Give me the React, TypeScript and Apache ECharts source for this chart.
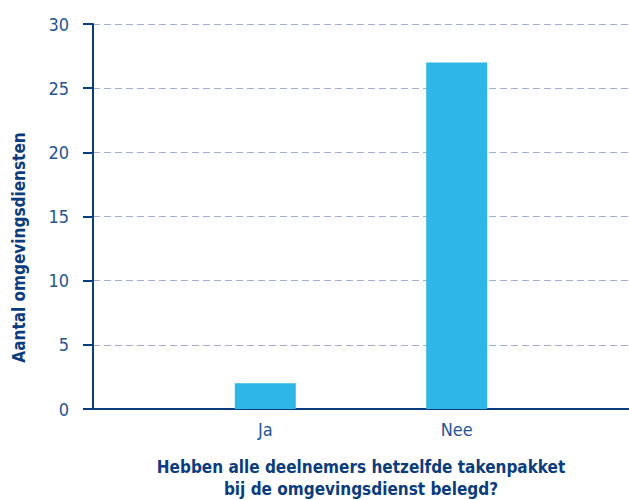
import React, { useEffect, useRef } from "react";
import * as echarts from "echarts";

const categories = ["Ja", "Nee"];
const values = [2, 27];
const yTicks = { min: 0, max: 30, interval: 5 };
const yTitle = "Aantal omgevingsdiensten";
const xTitle = "Hebben alle deelnemers hetzelfde takenpakket\nbij de omgevingsdienst belegd?";

const FONT = '"Liberation Sans Narrow", "DejaVu Sans Condensed", "Roboto Condensed", "Liberation Sans", sans-serif';
const DARK = "#0b3d7e";
const LABEL = "#265593";

export default function App() {
  const ref = useRef<HTMLDivElement>(null);
  useEffect(() => {
    if (!ref.current) return;
    const chart = echarts.init(ref.current, null, { renderer: "svg" });
    const xPositions = categories.map((_, i) => i + 1);
    chart.setOption({
      animation: false,
      backgroundColor: "#ffffff",
      textStyle: { fontFamily: FONT },
      grid: { left: 93, top: 24, right: 0, bottom: 91, containLabel: false },
      xAxis: {
        type: "value",
        min: 0.1,
        max: categories.length + 0.9,
        axisLine: { show: true, onZero: false, lineStyle: { color: DARK, width: 2 } },
        axisTick: { show: false },
        splitLine: { show: false },
        axisLabel: {
          customValues: xPositions,
          formatter: (v: number) => categories[Math.round(v) - 1] ?? "",
          color: LABEL,
          fontFamily: FONT,
          fontSize: 18,
          margin: 11,
        },
      },
      yAxis: {
        type: "value",
        min: yTicks.min,
        max: yTicks.max,
        interval: yTicks.interval,
        axisLine: { show: true, onZero: false, lineStyle: { color: DARK, width: 2 } },
        axisTick: { show: true, length: 10, lineStyle: { color: DARK, width: 2 } },
        axisLabel: { color: LABEL, fontFamily: FONT, fontSize: 18, margin: 24 },
        splitLine: {
          show: true,
          lineStyle: { color: "#9eaed9", width: 1, type: [7, 4] },
        },
      },
      series: [
        {
          type: "bar",
          barWidth: 61,
          itemStyle: { color: "#2db6e6" },
          data: values.map((v, i) => [xPositions[i], v]),
        },
      ],
      graphic: [
        {
          type: "text",
          x: 18.5,
          y: 247.5,
          rotation: Math.PI / 2,
          style: {
            text: yTitle,
            align: "center",
            verticalAlign: "middle",
            fill: DARK,
            font: `bold 17px ${FONT}`,
          },
        },
        {
          type: "text",
          x: 361,
          y: 456,
          style: {
            text: xTitle,
            align: "center",
            verticalAlign: "top",
            fill: DARK,
            font: `bold 17px ${FONT}`,
            lineHeight: 22,
          },
        },
      ],
    });
    return () => chart.dispose();
  }, []);
  return (
    <div
      ref={ref}
      style={{ position: "fixed", left: 0, top: 0, width: 629, height: 500 }}
    />
  );
}
